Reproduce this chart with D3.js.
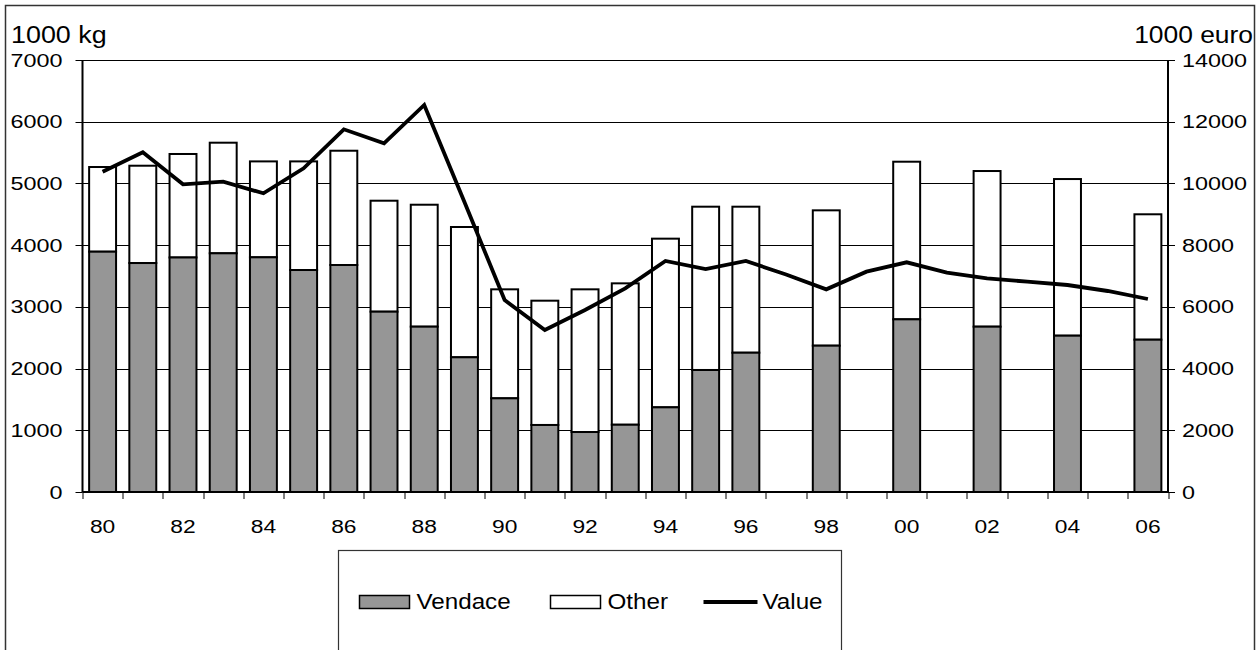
<!DOCTYPE html>
<html>
<head>
<meta charset="utf-8">
<script src="https://cdn.jsdelivr.net/npm/d3@7"></script>
<style>
  html, body { margin: 0; padding: 0; background: #fff; }
  svg { display: block; }
  text { font-family: "Liberation Sans", Arial, sans-serif; fill: #000; }
</style>
</head>
<body>
<svg width="1258" height="650"></svg>
<script>
(function() {

    "use strict";

    // catch by year, 1000 kg (null = no data that year)
    var years = ["80", "81", "82", "83", "84", "85", "86", "87", "88", "89", "90", "91", "92", "93",
                 "94", "95", "96", "97", "98", "99", "00", "01", "02", "03", "04", "05", "06"];
    var vendace = [3894, 3710, 3800, 3868, 3803, 3597, 3678, 2922, 2679, 2183, 1518, 1086, 972, 1090,
                   1372, 1977, 2257, null, 2371, null, 2798, null, 2679, null, 2533, null, 2468];
    var other = [1372, 1577, 1677, 1792, 1554, 1760, 1852, 1798, 1976, 2111, 1766, 2014, 2312, 2291,
                 2733, 2646, 2366, null, 2193, null, 2554, null, 2522, null, 2538, null, 2032];
    // value, 1000 euro
    var value = [10380, 11008, 9971, 10057, 9680, 10490, 11754, 11300, 12542, 9400, 6222, 5250, 5898, 6601,
                 7486, 7227, 7486, 7050, 6568, 7140, 7443, 7108, 6925, 6816, 6708, 6514, 6255];

    var leftTicks = [0, 1000, 2000, 3000, 4000, 5000, 6000, 7000];
    var rightTicks = [0, 2000, 4000, 6000, 8000, 10000, 12000, 14000];
    var yearLabels = ["80", "82", "84", "86", "88", "90", "92", "94", "96", "98", "00", "02", "04", "06"];

    var margin = {top: 60, right: 90, bottom: 158, left: 82.5};
    var svg = d3.select("svg");
    var width = +svg.attr("width") - margin.left - margin.right;
    var height = +svg.attr("height") - margin.top - margin.bottom;

    // text in the original is drawn a bit wide
    var wide = function(sel, x, y, sx) {
        return sel.attr("transform", "translate(" + x + "," + y + ") scale(" + sx + ",1)");
    };

    // outer frame
    svg.append("rect")
        .attr("x", 5.5).attr("y", 5.5)
        .attr("width", 1249).attr("height", 700)
        .attr("fill", "none")
        .attr("stroke", "#333")
        .attr("stroke-width", 1.5);

    var x = d3.scaleBand()
        .domain(years)
        .range([0, width]);

    var y = d3.scaleLinear()
        .domain([0, 7000])
        .range([height, 0]);

    var y2 = d3.scaleLinear()
        .domain([0, 14000])
        .range([height, 0]);

    var g = svg.append("g").attr("transform", "translate(" + margin.left + "," + margin.top + ")");

    // grid
    g.selectAll(".grid")
        .data(leftTicks.slice(1))
        .enter().append("line")
        .attr("class", "grid")
        .attr("x1", 0).attr("x2", width)
        .attr("y1", function(d) { return Math.round(y(d)) + 0.5; })
        .attr("y2", function(d) { return Math.round(y(d)) + 0.5; })
        .attr("stroke", "#000")
        .attr("stroke-width", 1);

    // bars
    var barW = x.bandwidth() * 0.67;
    var rows = years.map(function(yr, i) {
        return {year: yr, vendace: vendace[i], other: other[i]};
    }).filter(function(d) { return d.vendace !== null; });

    var bar = g.selectAll(".bar")
        .data(rows)
        .enter().append("g")
        .attr("class", "bar")
        .attr("transform", function(d) {
            return "translate(" + (x(d.year) + (x.bandwidth() - barW) / 2) + ",0)";
        });

    bar.append("rect")
        .attr("width", barW)
        .attr("y", function(d) { return y(d.vendace + d.other); })
        .attr("height", function(d) { return y(d.vendace) - y(d.vendace + d.other); })
        .attr("fill", "#fff")
        .attr("stroke", "#000")
        .attr("stroke-width", 2);

    bar.append("rect")
        .attr("width", barW)
        .attr("y", function(d) { return y(d.vendace); })
        .attr("height", function(d) { return height - y(d.vendace); })
        .attr("fill", "#969696")
        .attr("stroke", "#000")
        .attr("stroke-width", 2);

    // value line
    g.append("path")
        .datum(value)
        .attr("fill", "none")
        .attr("stroke", "#000")
        .attr("stroke-width", 3.8)
        .attr("stroke-linejoin", "miter")
        .attr("d", d3.line()
            .x(function(d, i) { return x(years[i]) + x.bandwidth() / 2; })
            .y(function(d) { return y2(d); }));

    // axes lines
    g.append("line")
        .attr("x1", 0).attr("x2", 0).attr("y1", 0).attr("y2", height)
        .attr("stroke", "#000").attr("stroke-width", 2);
    g.append("line")
        .attr("x1", width).attr("x2", width).attr("y1", 0).attr("y2", height)
        .attr("stroke", "#000").attr("stroke-width", 2);
    g.append("line")
        .attr("x1", 0).attr("x2", width).attr("y1", height).attr("y2", height)
        .attr("stroke", "#000").attr("stroke-width", 2);

    // left ticks
    g.selectAll(".lt")
        .data(leftTicks)
        .enter().append("line")
        .attr("class", "lt")
        .attr("x1", -7).attr("x2", 0)
        .attr("y1", function(d) { return Math.round(y(d)) + 0.5; })
        .attr("y2", function(d) { return Math.round(y(d)) + 0.5; })
        .attr("stroke", "#000");

    g.selectAll(".ll")
        .data(leftTicks)
        .enter().append("text")
        .attr("class", "ll")
        .attr("text-anchor", "end")
        .style("font-size", "19px")
        .each(function(d) { wide(d3.select(this), -20, y(d) + 6.5, 1.23); })
        .text(function(d) { return d; });

    // right ticks
    g.selectAll(".rt")
        .data(rightTicks)
        .enter().append("line")
        .attr("class", "rt")
        .attr("x1", width).attr("x2", width + 7)
        .attr("y1", function(d) { return Math.round(y2(d)) + 0.5; })
        .attr("y2", function(d) { return Math.round(y2(d)) + 0.5; })
        .attr("stroke", "#000");

    g.selectAll(".rl")
        .data(rightTicks)
        .enter().append("text")
        .attr("class", "rl")
        .attr("text-anchor", "start")
        .style("font-size", "19px")
        .each(function(d) { wide(d3.select(this), width + 14, y2(d) + 6.5, 1.23); })
        .text(function(d) { return d; });

    // bottom ticks at band edges
    var edges = years.map(function(yr) { return x(yr); }).concat([width]);
    g.selectAll(".bt")
        .data(edges)
        .enter().append("line")
        .attr("class", "bt")
        .attr("x1", function(d) { return Math.round(d) + 0.5; })
        .attr("x2", function(d) { return Math.round(d) + 0.5; })
        .attr("y1", height).attr("y2", height + 7)
        .attr("stroke", "#000");

    g.selectAll(".bl")
        .data(yearLabels)
        .enter().append("text")
        .attr("class", "bl")
        .attr("text-anchor", "middle")
        .style("font-size", "19px")
        .each(function(d) { wide(d3.select(this), x(d) + x.bandwidth() / 2, height + 41, 1.2); })
        .text(function(d) { return d; });

    // axis titles
    wide(svg.append("text"), 11, 43, 1.12)
        .style("font-size", "24px")
        .text("1000 kg");
    wide(svg.append("text"), 1253, 43, 1.1)
        .attr("text-anchor", "end")
        .style("font-size", "24px")
        .text("1000 euro");

    // legend
    var legend = svg.append("g").attr("transform", "translate(338.5,550.5)");
    legend.append("rect")
        .attr("width", 503).attr("height", 150)
        .attr("fill", "#fff")
        .attr("stroke", "#333")
        .attr("stroke-width", 1.2);

    var items = [
        {name: "Vendace", kind: "rect", fill: "#969696", x: 21},
        {name: "Other", kind: "rect", fill: "#fff", x: 212},
        {name: "Value", kind: "line", x: 365}
    ];

    items.forEach(function(it) {
        if (it.kind === "rect") {
            legend.append("rect")
                .attr("x", it.x).attr("y", 45)
                .attr("width", 50).attr("height", 13)
                .attr("fill", it.fill)
                .attr("stroke", "#000")
                .attr("stroke-width", 1.5);
        } else {
            legend.append("line")
                .attr("x1", it.x).attr("x2", it.x + 54)
                .attr("y1", 51.5).attr("y2", 51.5)
                .attr("stroke", "#000")
                .attr("stroke-width", 3.8);
        }
        wide(legend.append("text"), it.x + (it.kind === "line" ? 59 : 57), 58, 1.1)
            .style("font-size", "22px")
            .text(it.name);
    });

}());
</script>
</body>
</html>
